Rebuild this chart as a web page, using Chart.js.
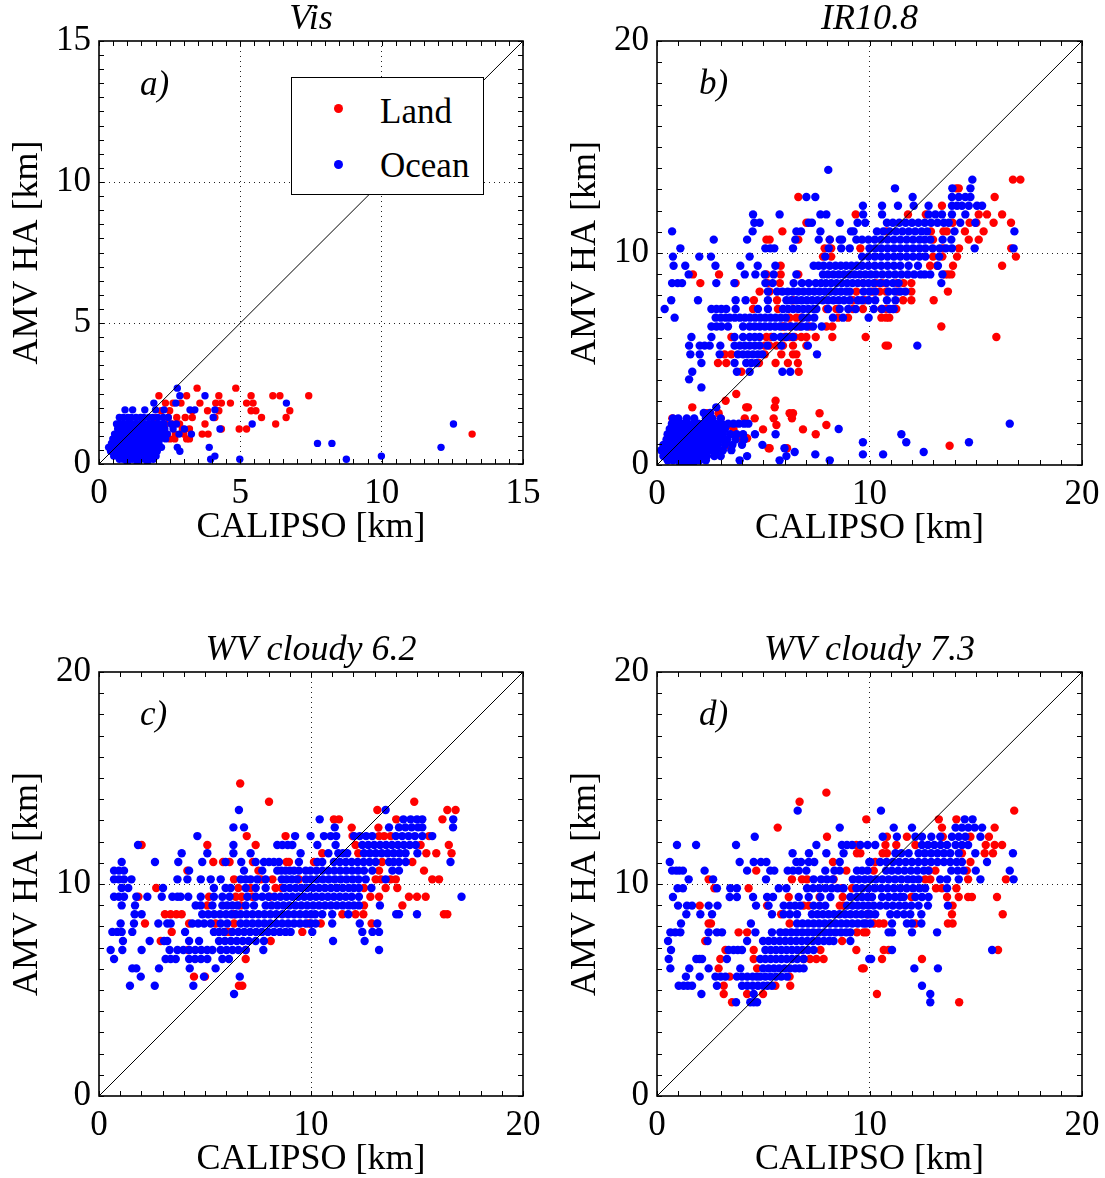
<!DOCTYPE html>
<html><head><meta charset="utf-8">
<script src="https://cdn.jsdelivr.net/npm/chart.js@4.4.1/dist/chart.umd.min.js"></script>
<style>
html,body{margin:0;padding:0;background:#fff;}
body{width:1105px;height:1178px;position:relative;overflow:hidden;font-family:"Liberation Serif","Times New Roman",serif;}
.panel{position:absolute;}
.lab{position:absolute;font-style:italic;font-size:35px;line-height:35px;white-space:nowrap;color:#000;}
#legend{position:absolute;left:291px;top:77px;width:191px;height:116px;border:1.3px solid #000;background:#fff;}
.dot{position:absolute;width:9px;height:9px;border-radius:50%;}
.lt{position:absolute;font-size:35px;line-height:35px;white-space:nowrap;color:#000;}
</style>
</head><body>
<div class="panel" id="wa" style="left:0;top:0;width:552px;height:589px"><canvas id="ca" width="552" height="589"></canvas></div>
<div class="panel" id="wb" style="left:552px;top:0;width:553px;height:589px"><canvas id="cb" width="553" height="589"></canvas></div>
<div class="panel" id="wc" style="left:0;top:589px;width:552px;height:589px"><canvas id="cc" width="552" height="589"></canvas></div>
<div class="panel" id="wd" style="left:552px;top:589px;width:553px;height:589px"><canvas id="cd" width="553" height="589"></canvas></div>
<div class="lab" style="left:140px;top:66px">a)</div>
<div class="lab" style="left:699px;top:65px">b)</div>
<div class="lab" style="left:140px;top:696px">c)</div>
<div class="lab" style="left:699px;top:696px">d)</div>
<div id="legend">
  <div class="dot" style="left:42px;top:26px;background:#ff0000"></div>
  <div class="lt" style="left:88px;top:16px">Land</div>
  <div class="dot" style="left:42px;top:82px;background:#0000ff"></div>
  <div class="lt" style="left:88px;top:70px">Ocean</div>
</div>
<script>
// ---------- DATA ----------
// each row: [AMV height (km), [CALIPSO heights (km) ...]]
const titles = ["Vis", "IR10.8", "WV cloudy 6.2", "WV cloudy 7.3"];
const axisMax = [15, 20, 20, 20];
const majorStep = [5, 10, 10, 10];
const minorStep = [0.5, 1, 1, 1];

const landA = [
 [2.69,[3.47,4.84]],
 [2.42,[2.12,3.10,4.24,5.38,6.15,6.40,7.42]],
 [2.16,[2.35,2.62,2.9,3.57,4.13,4.33,4.65,5.22,5.45]],
 [1.89,[2.2,2.5,3.3,3.84,4.24,5.38,5.55,6.75]],
 [1.65,[2.0,2.45,2.75,3.05,3.3,4.1,5.75,6.62]],
 [1.42,[2.35,2.6,2.85,3.75,6.25]],
 [1.24,[2.2,2.95,3.2,4.33,4.96,5.22]],
 [1.06,[2.4,2.7,3.0,3.65,3.86,13.2]],
 [0.89,[2.51,2.68,3.1,3.2]]
];
const oceanA = [
 [2.69,[2.77]],
 [2.42,[2.86,3.75]],
 [2.16,[1.94,2.72,6.63]],
 [1.92,[0.92,1.19,1.62,2.0,2.3,3.22,3.39,4.1]],
 [1.65,[0.72,0.86,1.02,1.14,1.31,1.47,1.58,1.76,1.9,2.08,2.27,2.45,4.04]],
 [1.42,[0.62,0.77,0.93,1.06,1.21,1.37,1.52,1.66,1.83,1.97,2.14,2.3,2.55,2.74,5.42,12.54]],
 [1.24,[0.66,0.81,0.97,1.12,1.26,1.41,1.57,1.71,1.88,2.03,2.17,2.33,2.62,3.02,4.28]],
 [1.06,[0.55,0.72,0.87,1.01,1.16,1.32,1.46,1.62,1.77,1.91,2.06,2.22,2.42,2.83,3.27]],
 [0.89,[0.49,0.64,0.81,0.96,1.11,1.27,1.42,1.56,1.72,1.87,2.01,2.16,2.36]],
 [0.73,[0.44,0.61,0.76,0.91,1.06,1.22,1.36,1.51,1.67,1.82,1.96,2.12,7.73,8.24]],
 [0.59,[0.34,0.51,0.66,0.82,0.96,1.12,1.26,1.41,1.56,1.71,1.86,2.02,2.21,2.77,3.9,12.1]],
 [0.45,[0.41,0.56,0.71,0.86,1.01,1.16,1.31,1.46,1.62,1.77,1.91,2.06,2.86]],
 [0.28,[0.52,0.66,0.81,0.97,1.11,1.26,1.42,1.57,1.71,1.86,2.02,4.1,9.99]],
 [0.17,[0.72,0.86,1.01,1.17,1.31,1.46,1.61,1.76,1.92,3.95,4.98,8.75]],
 [0.05,[1.0,1.35,1.72]]
];

const landB = [
 [13.46,[16.75,17.1]],
 [13.05,[14.09,14.2]],
 [12.64,[6.65,15.89]],
 [12.23,[13.41]],
 [11.82,[9.35,11.81,12.65,15.14,15.53,16.24]],
 [11.43,[7.03,13.91,14.71,15.03,15.84,16.66]],
 [11.02,[5.9,10.8,12.89,13.48,13.64,14.49,15.37]],
 [10.63,[5.15,5.3,6.65,8.13,12.99,14.67,15.14]],
 [10.22,[7.89,8.2,9.57,13.46,14.21,16.67]],
 [9.83,[7.81,8.2,12.99,13.43,14.12,16.89]],
 [9.40,[5.82,12.85,13.18,13.93,16.24]],
 [8.99,[1.69,2.92,5.15,5.82,6.65,13.54,13.69,13.85]],
 [8.58,[2.04,3.7,5.2,5.78,9.7,10.3,10.6,11.3,11.6,11.97]],
 [8.18,[4.83,5.3,9.38,10.13,10.48,10.79,11.34,11.97,13.69]],
 [7.77,[4.56,5.65,6.4,9.22,9.77,11.58,11.97,13.02]],
 [7.36,[4.52,5.69,7.97,8.44,9.22,9.69,10.56,10.79,11.1,11.26]],
 [6.95,[6.24,6.56,6.79,8.52,8.99,10.56,10.78,10.93]],
 [6.53,[5.93,6.24,6.71,7.18,7.97,8.25,13.38]],
 [6.04,[3.5,5.15,5.38,6.01,6.24,6.48,6.79,7.03,7.47,8.25,9.82,15.97]],
 [5.63,[5.07,5.3,5.62,5.93,6.4,7.03,10.76,10.87]],
 [5.22,[3.18,3.5,5.07,5.85,6.4,6.56]],
 [4.81,[2.87,3.26,4.8,5.58,6.16,6.63]],
 [4.40,[3.97,6.67]],
 [3.35,[3.73]],
 [3.03,[3.23,5.58]],
 [2.72,[1.66,4.2,4.28,5.54]],
 [2.44,[2.35,2.9,6.24,6.4,7.65]],
 [2.2,[0.72,3.0,4.13,4.6,5.49,6.35]],
 [1.89,[3.35,5.62,7.97]],
 [1.68,[3.6,4.99,6.87]],
 [1.45,[7.47]],
 [1.26,[3.05,3.89,4.24]],
 [0.91,[3.4,13.77]],
 [0.79,[5.25,5.3,6.12]]
];
const oceanB = [
 [13.92,[8.06]],
 [13.46,[14.84]],
 [13.05,[11.2,13.9,14.75]],
 [12.64,[7.03,7.45,12.03,13.88,14.2,14.51,14.75]],
 [12.23,[9.69,10.59,11.34,12.08,12.78,13.88,14.12,14.35,14.67,15.06,15.3]],
 [11.82,[4.52,5.77,7.69,7.97,9.7,10.59,12.78,13.1,13.41,13.88,14.51]],
 [11.43,[4.58,4.83,7.14,7.29,8.6,9.44,9.8,10.82,11.1,11.4,11.7,12.0,12.3,12.6,12.9,13.2,13.5,13.73,14.27,14.98]],
 [11.02,[0.71,4.5,6.56,6.78,7.69,9.13,9.25,10.35,10.65,10.95,11.25,11.55,11.85,12.15,12.45,12.71,14.0,16.82]],
 [10.63,[2.67,4.24,6.51,7.61,8.13,8.6,8.71,9.38,9.65,9.95,10.25,10.55,10.85,11.15,11.45,11.75,12.05,12.35,12.6,12.86,13.44,13.85]],
 [10.22,[1.1,5.1,5.33,5.52,6.4,8.08,8.67,9.07,10.0,10.27,10.55,10.85,11.15,11.45,11.75,12.05,12.35,12.63,12.97,13.3,13.6,13.88,14.95,16.78]],
 [9.83,[0.75,1.99,2.54,4.36,7.92,9.65,9.95,10.25,10.55,10.85,11.15,11.45,11.75,12.05,12.35,12.63,13.28]],
 [9.40,[0.78,1.33,2.75,3.92,4.74,5.57,7.37,7.6,7.84,8.13,8.4,8.65,8.9,9.15,9.4,9.65,9.95,10.25,10.55,10.85,11.15,11.45,11.84,12.28,13.22]],
 [8.99,[1.49,4.13,4.63,5.07,5.49,6.56,7.81,8.05,8.3,8.55,8.8,9.05,9.3,9.55,9.8,10.05,10.3,10.6,10.9,11.2,11.5,11.8,12.1,12.4,12.6,12.86,13.43]],
 [8.58,[0.71,0.97,1.18,2.79,3.64,5.1,5.44,6.43,6.82,7.14,7.47,7.72,7.95,8.2,8.45,8.7,8.95,9.2,9.45,9.7,9.95,10.2,10.5,10.8,11.1,11.37,13.38]],
 [8.18,[5.22,5.65,5.9,6.15,6.4,6.65,6.9,7.15,7.4,7.65,7.9,8.15,8.4,8.65,8.9,9.07,9.72,10.0,10.27,10.9,11.2,11.45,11.69]],
 [7.77,[0.67,1.93,3.7,4.17,5.22,6.09,6.32,6.56,6.8,7.05,7.3,7.55,7.8,8.05,8.3,8.55,8.8,9.07,9.46,9.65,9.95,10.27,10.82,11.22]],
 [7.36,[0.36,2.56,2.8,3.03,3.26,3.7,4.75,5.22,5.93,6.17,6.41,6.65,6.89,7.13,7.37,7.5,8.05,8.6,9.0,9.35,10.2,10.59,10.95,11.14]],
 [6.95,[0.83,2.76,3.0,3.23,3.42,3.66,3.9,4.14,4.38,4.62,4.86,5.1,5.34,5.58,5.82,6.06,6.85,7.1,7.4,8.28,8.75,9.96]],
 [6.53,[2.56,2.8,3.03,3.34,4.05,4.36,4.6,4.84,5.08,5.32,5.56,5.8,6.04,6.3,6.55,6.8,7.05,7.34,7.75]],
 [6.04,[1.62,2.56,3.65,4.05,4.36,4.6,4.83,5.5,5.82,6.09,6.4]],
 [5.63,[1.51,2.01,2.24,2.48,2.98,3.65,3.9,4.13,4.36,4.6,4.83,5.2,5.85,7.1,12.25]],
 [5.22,[1.57,2.01,2.95,3.81,4.05,4.28,4.52,4.75,4.95,7.53]],
 [4.81,[2.09,3.65,4.2,4.44,4.67]],
 [4.40,[1.66,3.76,4.36,5.9,6.27]],
 [4.04,[1.51]],
 [3.66,[2.09]],
 [2.72,[2.79]],
 [2.45,[2.2,2.5]],
 [2.2,[0.75,1.0,1.4,1.75,2.3,2.6,3.0]],
 [1.95,[0.7,0.95,1.2,1.45,1.7,1.95,2.2,2.45,2.75,3.05,3.35,3.6,3.85,4.1,4.3,16.6]],
 [1.7,[0.6,0.85,1.1,1.35,1.6,1.85,2.1,2.35,2.6,2.9,3.2,8.55]],
 [1.45,[0.5,0.75,1.0,1.25,1.5,1.75,2.0,2.25,2.5,2.8,3.1,3.45,3.75,4.05,4.61,5.58,11.5]],
 [1.2,[0.45,0.7,0.95,1.2,1.45,1.7,1.95,2.2,2.45,2.7,3.0,3.3,3.7,4.1]],
 [1.07,[9.69,11.73,14.68]],
 [0.95,[0.3,0.55,0.8,1.05,1.3,1.55,1.8,2.05,2.3,2.55,2.85,3.2,3.55,4.0,4.96]],
 [0.79,[6.0]],
 [0.7,[0.2,0.45,0.7,0.95,1.2,1.45,1.7,1.95,2.2,2.5,2.8,3.1,3.5]],
 [0.61,[6.48,12.55]],
 [0.5,[7.45,9.69,10.64]],
 [0.42,[0.3,0.55,0.8,1.05,1.3,1.55,1.8,2.05,2.35,2.7,3.0,4.24,6.09]],
 [0.22,[0.5,0.75,1.0,1.25,1.5,1.75,2.0,2.3,3.89,5.77,8.13]],
 [0.05,[1.1,1.4,1.7]]
];

const landC = [
 [14.74,[6.66]],
 [13.88,[8.02,14.87]],
 [13.49,[13.13,16.43,16.82]],
 [13.05,[11.08,11.32,14.02,16.2]],
 [12.66,[11.92,13.18]],
 [12.26,[6.97,8.8,11.96,13.21,13.45,13.76,15.57]],
 [11.84,[2.01,5.11,7.39,12.1,15.17,16.5]],
 [11.45,[10.53,12.23,15.44,15.91,16.63]],
 [11.04,[5.39,5.85,6.16,7.26,8.85,8.96,10.14,13.35,14.78]],
 [10.63,[4.17,7.52,13.21,15.33]],
 [10.22,[6.37,7.63,8.18,9.43,13.05,13.3,13.75,14.0,15.72,16.04]],
 [9.81,[2.7,6.57,7.15,8.33,8.62,12.5,13.52,14.07]],
 [9.40,[1.86,5.19,6.45,6.73,7.23,8.05,12.8,13.21,14.62,15.0,15.41]],
 [8.99,[5.11,6.68,12.5,14.31]],
 [8.57,[3.11,3.38,3.65,3.9,6.37,11.48,12.1,12.47,16.27,16.43]],
 [8.14,[2.17,4.25,5.5,6.37,9.9,10.46,12.86]],
 [7.74,[3.43,5.97,6.13,9.59]],
 [7.31,[2.91,8.1]],
 [6.89,[4.21,6.92]],
 [6.46,[6.92]],
 [5.63,[4.48,5.0]],
 [5.2,[6.6,6.76]]
];
const oceanC = [
 [13.49,[6.6,13.52]],
 [13.05,[10.41,14.36,14.7,15.0,15.25,16.71]],
 [12.67,[6.34,6.84,11.12,13.68,14.15,14.45,14.75,15.05,15.25,16.7]],
 [12.26,[4.64,9.25,9.98,10.61,10.93,11.19,12.03,12.3,12.6,12.89,14.0,14.3,14.6,14.9,15.25,15.72]],
 [11.84,[1.84,6.34,8.41,8.65,8.9,9.12,10.3,11.16,12.42,12.7,12.98,13.26,13.54,13.82,14.1,14.38,14.66,14.94]],
 [11.45,[3.9,5.11,6.34,7.15,9.51,10.82,11.29,11.5,11.71,12.5,12.78,13.06,13.34,13.62,13.9,14.18,14.46,15.02]],
 [11.04,[1.07,2.64,3.74,4.87,5.97,6.71,7.39,7.78,8.02,8.25,8.49,9.43,10.3,10.53,11.08,11.36,11.64,11.92,12.2,12.48,12.76,13.05,13.68,13.9,14.15,14.47,16.58]],
 [10.63,[0.71,0.94,1.18,4.25,6.84,7.7,8.41,8.6,8.8,9.0,9.2,9.43,9.75,9.98,10.26,10.54,10.82,11.1,11.38,11.66,11.94,12.22,12.5,12.89,13.84,14.15]],
 [10.22,[0.71,0.94,1.18,1.53,3.7,4.17,4.8,5.27,5.74,6.68,6.92,7.15,7.47,7.86,8.62,8.85,9.1,9.35,9.75,10.0,10.28,10.56,10.84,11.12,11.4,11.68,11.96,12.24,12.58,13.52]],
 [9.81,[1.07,1.38,3.02,5.42,5.97,6.21,6.92,7.39,7.86,8.73,9.0,9.28,9.55,9.82,10.1,10.38,10.66,10.94,11.22,11.5,11.78,12.02,12.26,12.85]],
 [9.40,[0.71,0.94,1.18,1.76,2.28,2.96,3.46,3.7,3.85,4.21,4.8,5.42,5.82,6.16,7.0,7.39,7.7,8.0,8.28,8.56,8.84,9.12,9.4,9.68,9.96,10.24,10.52,10.8,11.08,11.36,11.64,11.92,12.26,17.1]],
 [8.99,[1.07,1.7,4.56,4.8,5.35,5.82,6.05,6.29,6.53,6.92,7.31,7.86,8.14,8.42,8.7,8.98,9.26,9.54,9.82,10.1,10.38,10.66,10.94,11.22,11.5,11.78,12.02,12.26,13.25]],
 [8.57,[1.68,2.01,4.87,5.15,5.43,5.71,5.99,6.25,6.45,6.68,6.96,7.24,7.52,7.8,8.08,8.36,8.64,8.92,9.2,9.48,9.76,10.0,10.2,10.53,11.0,11.76,14.02,14.15,15.0]],
 [8.14,[1.02,1.65,2.8,3.22,3.38,4.4,4.68,4.96,5.27,5.74,6.05,6.68,6.96,7.24,7.52,7.8,8.08,8.36,8.64,8.92,9.2,9.48,9.76,10.0,10.22,11.0,12.3,13.13]],
 [7.74,[0.63,0.86,1.07,1.57,4.06,5.42,5.66,5.9,6.29,6.57,6.85,7.13,7.41,7.69,7.97,8.25,8.53,8.8,9.04,10.06,12.42,12.9,13.21]],
 [7.31,[1.13,2.39,3.07,3.22,4.25,4.72,5.66,5.94,6.22,6.5,6.78,7.06,7.39,7.78,11.04,12.53]],
 [6.89,[0.55,1.1,2.01,3.33,3.7,3.98,4.26,4.54,4.82,5.1,5.35,5.74,6.02,6.3,6.58,6.92,7.75,13.21]],
 [6.46,[0.71,3.14,3.38,3.62,4.25,4.53,4.81,5.11,5.82,6.13]],
 [6.02,[1.57,1.76,2.83,4.28,5.5]],
 [5.63,[1.97,4.95,6.64]],
 [5.2,[1.46,2.63,4.45]],
 [4.81,[6.37]]
];

const landD = [
 [14.31,[7.97]],
 [13.88,[6.71]],
 [13.46,[16.81]],
 [13.05,[9.85,13.26,14.09]],
 [12.66,[5.68,13.41,15.89]],
 [12.23,[8.0,10.82,11.76,13.45,14.75,15.62]],
 [11.84,[9.38,10.75,11.26,12.16,15.47,15.89,16.24]],
 [11.45,[9.41,9.57,10.62,10.82,14.35,15.42,15.81]],
 [11.04,[8.28,10.27,14.75]],
 [10.63,[4.67,8.91,10.2,12.8,13.1,14.58]],
 [10.22,[2.43,6.35,6.82,7.06,8.31,12.62,12.86,14.64,16.42]],
 [9.8,[2.7,4.31,8.71,9.18,13.13,13.41,14.09]],
 [9.39,[6.2,7.65,8.74,10.1,11.97,13.65,14.2,14.64,14.82,16.0]],
 [8.98,[2.01,5.18,6.9,7.14,8.6,8.78,13.91]],
 [8.57,[5.84,9.9,13.88,16.27]],
 [8.14,[2.43,2.54,6.24,10.2,10.45,10.67,12.16,13.69,13.91]],
 [7.72,[3.84,4.24,9.41,9.73,9.85]],
 [7.31,[2.27,8.71]],
 [6.89,[3.22,4.55,7.69,9.38,10.67,10.9,16.05]],
 [6.46,[2.98,4.55,6.9,7.2,7.5,7.84,10.59,12.47]],
 [6.02,[2.9,4.71,9.65,9.73]],
 [5.63,[3.42,6.24]],
 [5.2,[3.14,5.57,6.27]],
 [4.81,[3.14,4.24,4.99,10.35]],
 [4.42,[3.53,14.22]]
];
const oceanD = [
 [13.46,[6.62,10.54]],
 [13.05,[14.48,14.85]],
 [12.66,[8.6,11.14,12.0,14.05,14.35,14.65,14.95,15.3]],
 [12.23,[4.6,10.62,11.29,12.16,12.47,12.91,13.33,13.88,14.2,14.51,15.22]],
 [11.84,[0.94,1.84,3.72,7.5,8.7,8.94,9.18,9.57,9.91,10.27,12.47,12.75,13.05,13.35,13.65,14.05,14.35,14.64]],
 [11.45,[6.38,7.15,7.97,8.78,11.22,11.5,11.84,12.31,12.6,12.9,13.2,13.5,13.8,14.2,14.98,16.75]],
 [11.04,[0.6,3.89,4.55,4.89,5.15,6.56,6.78,7.14,7.4,8.6,9.99,10.04,10.5,10.8,11.1,11.4,11.7,12.0,12.3,12.6,12.9,13.2,13.5,13.8,14.1,14.35,15.53]],
 [10.63,[0.71,0.9,1.05,1.22,2.24,4.24,5.33,5.52,6.15,6.4,6.67,7.03,7.92,8.35,8.6,9.41,9.65,9.91,10.78,11.05,11.35,11.65,11.95,12.25,12.55,12.78,13.85,14.15,14.43,15.0,16.6]],
 [10.22,[1.49,2.64,5.13,7.37,7.72,8.0,8.28,9.22,9.5,9.78,10.04,10.3,10.6,10.9,11.2,11.5,11.8,12.05,12.31,13.33,13.65,14.2,15.22,16.78]],
 [9.8,[0.97,1.22,2.82,3.45,3.76,5.73,6.09,7.06,7.35,7.64,7.93,8.22,8.5,8.78,9.38,9.65,9.95,10.25,10.55,10.85,11.15,11.45,11.75,12.05,12.35,12.62,13.65]],
 [9.39,[0.75,3.42,3.76,4.52,5.18,5.46,6.67,7.14,7.69,8.16,9.1,9.41,9.65,9.9,10.12,10.59,10.9,11.2,11.45,11.61,12.16,12.47,12.78]],
 [8.98,[0.99,1.41,1.65,2.43,2.85,4.66,5.25,5.96,6.25,6.5,6.75,7.37,7.65,7.92,8.94,9.2,9.45,9.7,9.95,10.2,10.5,10.8,11.1,11.4,11.68,11.97,12.31,12.75,13.69]],
 [8.57,[1.38,2.04,2.59,5.41,5.96,6.25,6.59,7.29,7.55,7.81,8.07,8.33,8.59,8.85,9.11,9.37,9.63,9.89,10.04,10.27,10.98,11.3,11.62,11.92,12.44]],
 [8.14,[1.13,4.42,6.59,6.85,7.11,7.37,7.63,7.89,8.15,8.41,8.67,8.93,9.19,9.45,9.71,9.83,10.04,11.06,11.76,12.0,12.44]],
 [7.72,[0.63,0.86,1.1,2.43,2.82,3.06,4.63,5.41,5.8,6.06,6.32,6.58,6.84,7.1,7.36,7.62,7.88,8.14,8.4,8.66,8.9,9.1,10.9,11.06,12.0,13.18]],
 [7.31,[0.52,2.38,4.24,4.99,5.25,5.51,5.77,6.03,6.29,6.55,6.81,7.07,7.33,7.59,7.85,8.1,8.31,9.1]],
 [6.89,[0.66,3.37,3.6,3.8,4.0,5.1,5.35,5.6,5.85,6.1,6.35,6.6,6.85,7.1,7.37,11.06,15.77]],
 [6.46,[0.55,1.85,2.0,2.12,3.29,4.86,5.1,5.35,5.6,5.85,6.1,6.35,6.6,6.9,9.99,10.08]],
 [6.02,[0.63,1.52,2.43,3.92,4.99,5.25,5.5,5.75,6.0,6.25,6.5,6.7,6.9,12.11,13.22]],
 [5.63,[1.36,2.01,2.75,3.0,3.22,3.76,4.0,4.25,4.5,4.7,4.86,5.1,5.35,5.6,5.85,6.12]],
 [5.2,[1.02,1.25,1.45,1.65,2.82,4.0,4.25,4.5,4.75,5.0,5.2,5.41,12.47]],
 [4.81,[2.09,4.55,12.86]],
 [4.42,[3.72,4.39,4.55,4.71,12.86]]
];

// ---------- RENDERING ----------
const FONT = "'Liberation Serif', 'Times New Roman', serif";
const toPts = rows => rows.flatMap(([y, xs]) => xs.map(x => ({x: x, y: y})));

const framePlugin = {
  id: 'frame',
  afterDatasetsDraw(chart, args, opts) {
    const {ctx, chartArea, scales} = chart;
    const {left, right, top, bottom} = chartArea;
    const xs = scales.x, ys = scales.y;
    ctx.save();
    ctx.strokeStyle = '#000';
    ctx.lineWidth = 1;
    const n = Math.round(opts.max / opts.minor);
    ctx.beginPath();
    for (let i = 0; i <= n; i++) {
      const v = i * opts.minor;
      const px = Math.round(xs.getPixelForValue(v)) + 0.5;
      ctx.moveTo(px, bottom); ctx.lineTo(px, bottom - 5);
      ctx.moveTo(px, top); ctx.lineTo(px, top + 5);
      const py = Math.round(ys.getPixelForValue(v)) + 0.5;
      ctx.moveTo(left, py); ctx.lineTo(left + 5, py);
      ctx.moveTo(right, py); ctx.lineTo(right - 5, py);
    }
    ctx.stroke();
    ctx.lineWidth = 1.6;
    ctx.strokeRect(left, top, right - left, bottom - top);
    ctx.restore();
  }
};

function makePanel(id, idx, land, ocean, pad, radius) {
  const max = axisMax[idx];
  const gridColor = c => (c.tick && (c.tick.value === 0 || c.tick.value === max)) ? 'rgba(0,0,0,0)' : '#222';
  const xTickFont = {family: FONT, size: 35, weight: 'normal', lineHeight: 1.45};
  const yTickFont = {family: FONT, size: 35, weight: 'normal', lineHeight: 1.2};
  const titleFont = {family: FONT, size: 36, weight: 'normal', lineHeight: 1};
  new Chart(document.getElementById(id), {
    type: 'scatter',
    data: {
      datasets: [
        {type: 'line', data: [{x: 0, y: 0}, {x: max, y: max}], borderColor: '#000', borderWidth: 1,
         pointRadius: 0, fill: false, order: 0},
        {label: 'Ocean', data: toPts(ocean), backgroundColor: '#0000ff', borderWidth: 0,
         pointRadius: radius, order: 1},
        {label: 'Land', data: toPts(land), backgroundColor: '#ff0000', borderWidth: 0,
         pointRadius: radius, order: 2}
      ]
    },
    options: {
      responsive: false, animation: false, events: [], devicePixelRatio: 1,
      layout: {padding: pad},
      plugins: {
        legend: {display: false}, tooltip: {enabled: false},
        title: {display: true, text: titles[idx], fullSize: false, color: '#000',
                font: {family: FONT, size: 36, style: 'italic', weight: 'normal', lineHeight: 1},
                padding: {top: 2, bottom: 3}},
        frame: {max: max, minor: minorStep[idx]}
      },
      scales: {
        x: {type: 'linear', min: 0, max: max, position: 'bottom',
            afterFit: s => { s.height = 82; },
            ticks: {stepSize: majorStep[idx], color: '#000', font: xTickFont, padding: 4, maxRotation: 0},
            grid: {color: gridColor, lineWidth: 1, drawTicks: false},
            border: {display: false, dash: [1, 4]},
            title: {display: true, text: 'CALIPSO [km]', color: '#000', font: titleFont, padding: {top: 0, bottom: 0}}},
        y: {type: 'linear', min: 0, max: max, position: 'left',
            afterFit: s => { s.width = 99; },
            ticks: {stepSize: majorStep[idx], color: '#000', font: yTickFont, padding: 8},
            grid: {color: gridColor, lineWidth: 1, drawTicks: false},
            border: {display: false, dash: [1, 4]},
            title: {display: true, text: 'AMV HA [km]', color: '#000', font: titleFont, padding: {top: 10, bottom: 0}}}
      }
    },
    plugins: [framePlugin]
  });
}

makePanel('ca', 0, landA, oceanA, {left: 0, right: 29, top: 0, bottom: 43}, 3.7);
makePanel('cb', 1, landB, oceanB, {left: 6, right: 23, top: 0, bottom: 42}, 4.2);
makePanel('cc', 2, landC, oceanC, {left: 0, right: 29, top: 42, bottom: 0}, 4.2);
makePanel('cd', 3, landD, oceanD, {left: 6, right: 23, top: 42, bottom: 0}, 4.2);
</script>
</body></html>
